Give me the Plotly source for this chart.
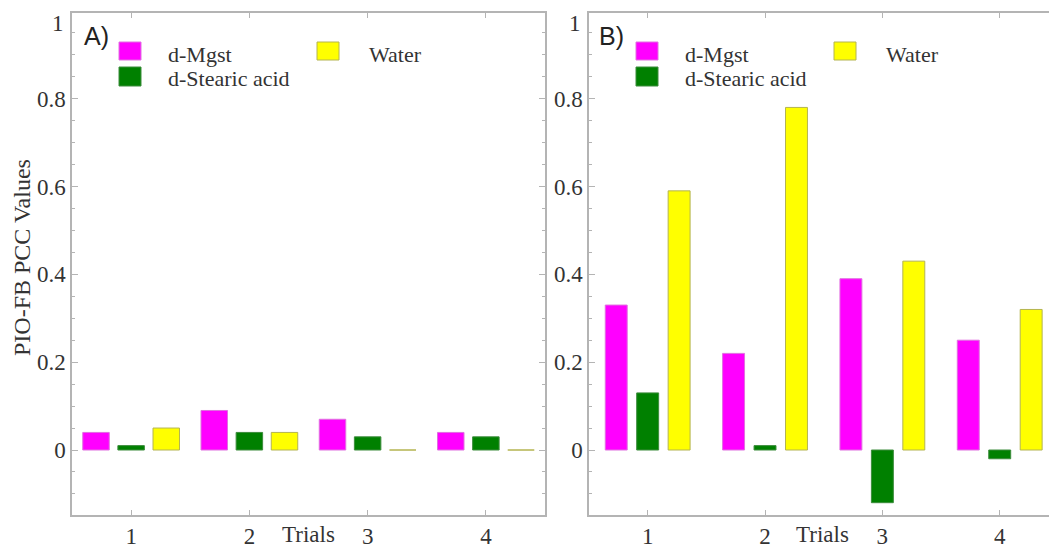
import plotly.graph_objects as go

trials = [1, 2, 3, 4]
series_names = ["d-Mgst", "d-Stearic acid", "Water"]
colors = ["#FF00FF", "#008000", "#FFFF00"]
edge_colors = ["#E070E0", "#3C8C3C", "#B4B450"]

# Panel A values
a_mgst = [0.04, 0.09, 0.07, 0.04]
a_stearic = [0.01, 0.04, 0.03, 0.03]
a_water = [0.05, 0.04, 0.0, 0.0]

# Panel B values
b_mgst = [0.33, 0.22, 0.39, 0.25]
b_stearic = [0.13, 0.01, -0.12, -0.02]
b_water = [0.59, 0.78, 0.43, 0.32]

y_tickvals = [0, 0.2, 0.4, 0.6, 0.8]
y_ticktext = ["0", "0.2", "0.4", "0.6", "0.8"]

W, H = 1049, 548
ML, MR, MT, MB = 0, 0, 13, 33
PW, PH = W - ML - MR, H - MT - MB

def px(x):
    return (x - ML) / PW

def py(y):
    return (H - MB - y) / PH

SERIF = "Liberation Serif"
TXT = "#333333"

fig = go.Figure()

panels = [
    ("x", "y", [a_mgst, a_stearic, a_water], 0.224, 0.297),
    ("x2", "y2", [b_mgst, b_stearic, b_water], 0.187, 0.268),
]
for xa, ya, vals, bw, step in panels:
    for i, (name, v) in enumerate(zip(series_names, vals)):
        fig.add_trace(go.Bar(
            x=trials, y=v, name=name, xaxis=xa, yaxis=ya,
            width=bw, offset=(i - 1) * step - bw / 2,
            marker=dict(color=colors[i], line=dict(color=edge_colors[i], width=1)),
            showlegend=False,
        ))

axis_common_x = dict(
    tickvals=trials, ticktext=[str(t) for t in trials],
    showline=True, linecolor="#B4B4B4", linewidth=1.5,
    ticks="inside", ticklen=5, tickcolor="#B4B4B4",
    showgrid=False, zeroline=False,
    tickfont=dict(family=SERIF, size=23, color=TXT),
    automargin=False, mirror="ticks",
)
axis_common_y = dict(
    range=[-0.148, 0.995],
    tickvals=y_tickvals, ticktext=y_ticktext,
    showline=True, linecolor="#B4B4B4", linewidth=1.5,
    ticks="inside", ticklen=6, tickcolor="#B4B4B4",
    minor=dict(dtick=0.05, ticks="inside", ticklen=3, tickcolor="#B4B4B4"),
    showgrid=False, zeroline=False,
    tickfont=dict(family=SERIF, size=23, color=TXT),
    automargin=False,
)

fig.update_layout(
    width=W, height=H,
    margin=dict(l=ML, r=MR, t=MT, b=MB),
    paper_bgcolor="white", plot_bgcolor="white",
    barmode="overlay",
    xaxis=dict(domain=[px(72), px(545)], range=[0.5, 4.5], anchor="y", **axis_common_x),
    yaxis=dict(domain=[0, 1], anchor="x", mirror="ticks", **axis_common_y),
    xaxis2=dict(domain=[px(589), 1.0], range=[0.5, 4.42], anchor="y2", **axis_common_x),
    yaxis2=dict(domain=[0, 1], anchor="x2", mirror=False, **axis_common_y),
)

annotations = []
shapes = []
for off, label, tx in [(0, "A)", 96), (517, "B)", 611)]:
    annotations.append(dict(x=px(tx), y=py(36), xref="paper", yref="paper", text=label,
                            xanchor="center", yanchor="middle",
                            showarrow=False, font=dict(family="Liberation Sans", size=25, color="#222222")))
    # legend entries
    entries = [(119, 42, 60, 0, 166, 54), (119, 67, 86, 1, 166, 78), (317, 42, 60, 2, 367, 54)]
    for sx, sy0, sy1, ci, txx, ty in entries:
        shapes.append(dict(type="rect", xref="paper", yref="paper",
                           x0=px(sx + off), x1=px(sx + off + 22), y0=py(sy1), y1=py(sy0),
                           fillcolor=colors[ci], line=dict(color=edge_colors[ci], width=1)))
        annotations.append(dict(x=px(txx + off), y=py(ty), xref="paper", yref="paper",
                                text=series_names[ci], showarrow=False, xanchor="left", yanchor="middle",
                                font=dict(family=SERIF, size=22, color=TXT)))
    # "1" tick label near top
    annotations.append(dict(x=px(66 + off), y=py(24), xref="paper", yref="paper", text="1",
                            showarrow=False, xanchor="right", yanchor="middle",
                            font=dict(family=SERIF, size=23, color=TXT)))

for tx in (308, 822):
    annotations.append(dict(x=px(tx), y=py(534), xref="paper", yref="paper", text="Trials",
                            xanchor="center", yanchor="middle",
                            showarrow=False, font=dict(family=SERIF, size=23, color=TXT)))
annotations.append(dict(x=px(22), y=py(258), xref="paper", yref="paper", text="PIO-FB PCC Values",
                        xanchor="center", yanchor="middle",
                        textangle=-90, showarrow=False, font=dict(family=SERIF, size=24, color=TXT)))

fig.update_layout(annotations=annotations, shapes=shapes)
fig.write_html("out.html")
